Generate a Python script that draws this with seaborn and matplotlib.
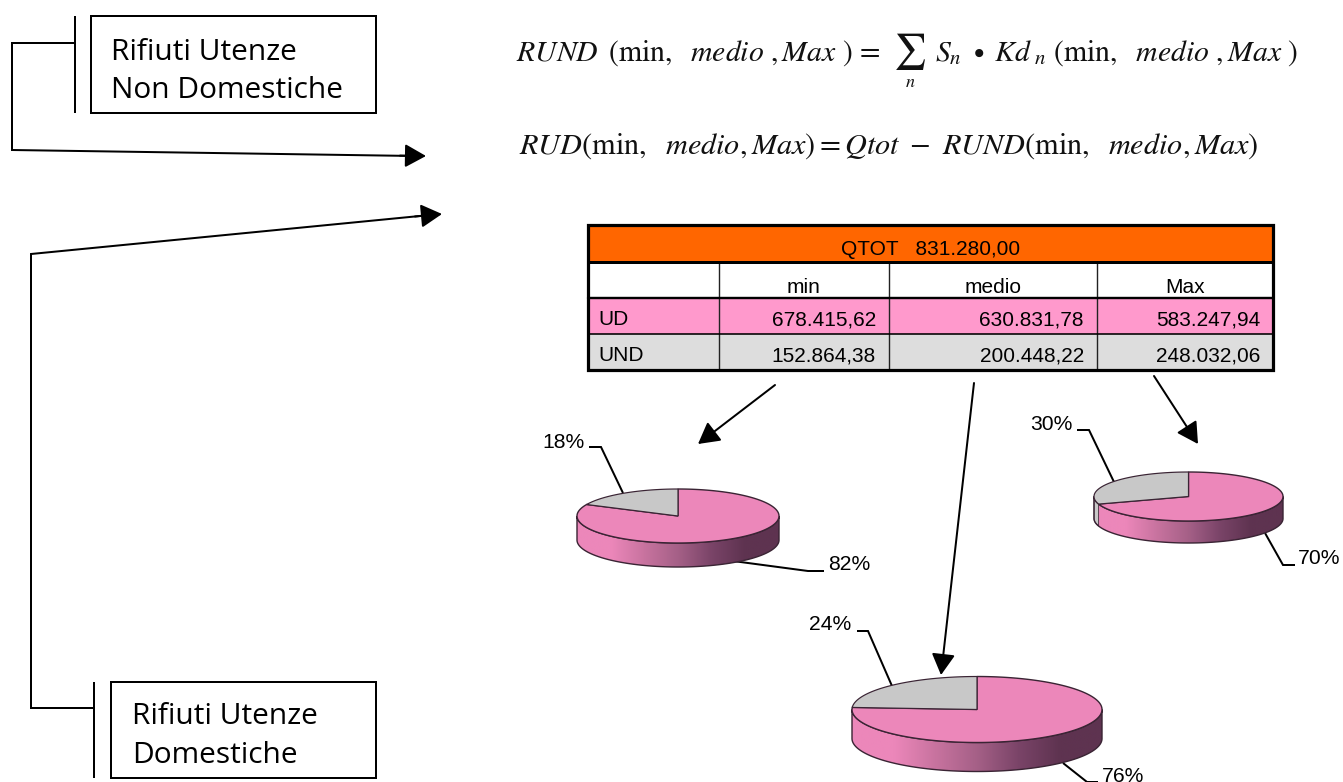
import matplotlib
matplotlib.use("Agg")
import matplotlib.pyplot as plt
import numpy as np
import seaborn as sns
from matplotlib.patches import Polygon, Rectangle

sns.set_theme(style="white")
plt.rcParams["font.family"] = ["Liberation Sans", "DejaVu Sans"]
plt.rcParams["mathtext.fontset"] = "stix"

# values from the table
qtot = 831280.00
scenarios = ["min", "medio", "Max"]
row_names = ["UD", "UND"]
ud_values = [678415.62, 630831.78, 583247.94]
und_values = [152864.38, 200448.22, 248032.06]

# percent labels of the three pies (grey UND, pink UD)
und_share = [18, 24, 30]
ud_share = [82, 76, 70]

PINK = "#EC87BA"
GREY = "#C8C8C8"
EDGE = "#3A2434"
side_cmap = sns.blend_palette(
    [PINK, PINK, "#C8739F", "#A56087", "#7A4468", "#5E3350", "#5E3350"], n_colors=256, as_cmap=True
)

fig = plt.figure(figsize=(13.43, 7.82), dpi=100)
ax = fig.add_axes([0, 0, 1, 1])
ax.set_xlim(0, 1343)
ax.set_ylim(782, 0)
ax.axis("off")


def px(w):
    return w * 0.72


def poly(points, **kw):
    ax.plot(*zip(*points), color="black", lw=px(2), solid_capstyle="butt", solid_joinstyle="miter", **kw)


def arrow(start, end):
    ax.annotate(
        "",
        xy=end,
        xytext=start,
        arrowprops=dict(arrowstyle="-|>,head_length=0.72,head_width=0.4", color="black", lw=px(2), shrinkA=0, shrinkB=0, mutation_scale=18),
    )


def pie3d(cx, cy, rx, ry, depth, grey_pct):
    grey_end = grey_pct / 100 * 2 * np.pi

    # t is measured from 12 o'clock going counterclockwise
    def rim(t, dy=0):
        return np.column_stack([cx - rx * np.sin(t), cy - ry * np.cos(t) + dy])

    front = np.linspace(np.pi / 2, 3 * np.pi / 2, 200)
    side = np.vstack([rim(front), rim(front[::-1], depth)])
    grad = np.linspace(0, 1, 256)[None, :]
    img = ax.imshow(grad, cmap=side_cmap, aspect="auto", extent=(cx - rx, cx + rx, cy + ry + depth, cy - ry), zorder=2)
    clip = Polygon(side, closed=True, transform=ax.transData, fc="none", ec="none")
    ax.add_patch(clip)
    img.set_clip_path(clip)
    ax.set_xlim(0, 1343)
    ax.set_ylim(782, 0)

    # grey part of the wall, only when the slice passes the left edge
    if grey_end > np.pi / 2:
        t = np.linspace(np.pi / 2, grey_end, 40)
        ax.add_patch(Polygon(np.vstack([rim(t), rim(t[::-1], depth)]), fc=GREY, ec=EDGE, lw=px(0.8), zorder=2.5))
    ax.add_patch(Polygon(side, fc="none", ec=EDGE, lw=px(1.4), zorder=3))

    t_grey = np.linspace(0, grey_end, 120)
    t_pink = np.linspace(grey_end, 2 * np.pi, 300)
    centre = [[cx, cy]]
    ax.add_patch(Polygon(np.vstack([centre, rim(t_pink)]), fc=PINK, ec=EDGE, lw=px(1.4), zorder=4))
    ax.add_patch(Polygon(np.vstack([centre, rim(t_grey)]), fc=GREY, ec=EDGE, lw=px(1.2), zorder=4))


# left boxes and connectors
ax.add_patch(Rectangle((91, 16), 285, 97, fc="white", ec="black", lw=px(2)))
ax.add_patch(Rectangle((111, 682), 265, 96, fc="white", ec="black", lw=px(2)))
box_font = dict(family="Open Sans", fontsize=21.5, color="black", va="baseline")
ax.text(111, 60, "Rifiuti Utenze", **box_font)
ax.text(111, 98, "Non Domestiche", **box_font)
ax.text(132, 724, "Rifiuti Utenze", **box_font)
ax.text(132, 763, "Domestiche", **box_font)

poly([(75, 16), (75, 113)])
poly([(75, 43), (12, 43), (12, 150), (415, 156)])
arrow((400, 155.6), (426, 156))
poly([(94, 682), (94, 778)])
poly([(94, 708), (31, 708), (31, 254), (430, 215)])
arrow((415, 216.5), (442, 214))

# formulas
formula = dict(fontsize=21.4, va="baseline", color="#111111")
ax.text(516, 61, r"$RUND\,\ (\mathrm{min,}\ \ medio\ ,Max\ )\,=$", **formula)
ax.text(893, 61, r"$\sum$", fontsize=26, va="baseline", color="#111111")
ax.text(905, 87, r"$n$", fontsize=13, va="baseline", color="#111111")
ax.text(935, 61, r"$S_{n}\ \bullet\ Kd_{\ n}\ (\mathrm{min,}\ \ medio\ ,Max\ )$", **formula)
ax.text(519, 154, r"$RUD(\mathrm{min,}\ \ medio,Max)=Qtot\ -\ RUND(\mathrm{min,}\ \ medio,Max)$", fontsize=21.8, va="baseline", color="#111111")

# table
col_x = [588, 719, 889, 1097, 1273]
row_y = [225, 262, 298, 334, 370]
row_fill = ["#FF6600", "white", "#FF99CC", "#DDDDDD"]
for i, fill in enumerate(row_fill):
    ax.add_patch(Rectangle((588, row_y[i]), 685, row_y[i + 1] - row_y[i], fc=fill, ec="none"))


def money(v):
    return f"{v:,.2f}".replace(",", "#").replace(".", ",").replace("#", ".")


cell_font = dict(fontsize=15, color="black", va="baseline")
ax.text((col_x[0] + col_x[-1]) / 2, row_y[1] - 7, f"QTOT   {money(qtot)}", ha="center", **cell_font)
for j, name in enumerate(scenarios):
    ax.text((col_x[j + 1] + col_x[j + 2]) / 2, row_y[2] - 5, name, ha="center", **cell_font)
    ax.text(col_x[j + 2] - 13, row_y[3] - 9, money(ud_values[j]), ha="right", **cell_font)
    ax.text(col_x[j + 2] - 13, row_y[4] - 9, money(und_values[j]), ha="right", **cell_font)
ax.text(598, row_y[3] - 9, row_names[0], ha="left", **cell_font)
ax.text(598, row_y[4] - 9, row_names[1], ha="left", **cell_font)

for x in col_x[1:-1]:
    ax.plot([x, x], [row_y[1], row_y[4]], color="#222222", lw=px(1.4))
for y, w in zip(row_y[1:-1], [3, 2.4, 1.6]):
    ax.plot([col_x[0], col_x[-1]], [y, y], color="black", lw=px(w))
ax.add_patch(Rectangle((588, 225), 685, 145, fc="none", ec="black", lw=px(3.2), zorder=5))

# arrows from the table to the pies
arrow((775, 385), (698, 444))
arrow((974, 383), (941, 675))
arrow((1154, 376), (1198, 444))

# pies: min, medio, Max
pie3d(678, 516, 101, 27, 24, und_share[0])
pie3d(977, 709.5, 125, 33, 29, und_share[1])
pie3d(1188.5, 496.5, 94.5, 24.5, 22, und_share[2])

# leader lines and percent labels
pct_font = dict(fontsize=15.2, color="black", va="center")
poly([(589, 447), (601, 447), (623, 493)], zorder=1)
ax.text(542, 443, f"{und_share[0]}%", **pct_font)
poly([(733, 561), (808, 571), (824, 571)], zorder=1)
ax.text(828, 565, f"{ud_share[0]}%", **pct_font)
poly([(857, 631), (868, 631), (892, 686)], zorder=1)
ax.text(809, 625, f"{und_share[1]}%", **pct_font)
poly([(1063, 763), (1087, 782), (1098, 782)], zorder=1)
ax.text(1102, 777, f"{ud_share[1]}%", **pct_font)
poly([(1077, 430), (1089, 430), (1114, 482)], zorder=1)
ax.text(1030, 424, f"{und_share[2]}%", **pct_font)
poly([(1265, 533), (1283, 565), (1295, 565)], zorder=1)
ax.text(1298, 559, f"{ud_share[2]}%", **pct_font)

fig.savefig("out.png", dpi=100, facecolor="white")
